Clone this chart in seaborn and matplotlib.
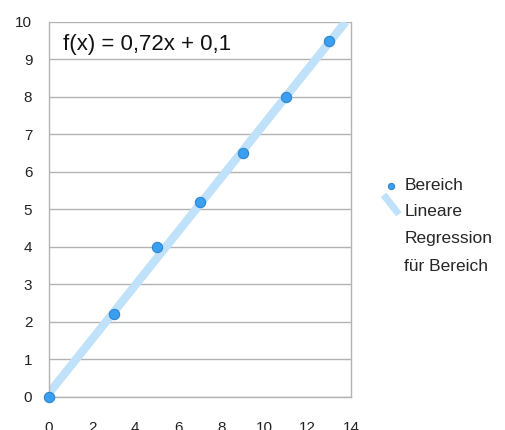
import numpy as np
import pandas as pd
import seaborn as sns
import matplotlib.pyplot as plt
from matplotlib.legend_handler import HandlerLine2D
from matplotlib.lines import Line2D

# data
x_vals = [0, 3, 5, 7, 9, 11, 13]
y_vals = [0, 2.2, 4, 5.2, 6.5, 8, 9.5]
slope = 0.72
intercept = 0.1
equation = "f(x) = 0,72x + 0,1"
series_label = "Bereich"
trend_label = "Lineare\nRegression\nfür Bereich"

df = pd.DataFrame({"x": x_vals, "y": y_vals})
fit_x = [0, (10 - intercept) / slope]
fit = pd.DataFrame({"x": fit_x, "y": [slope * v + intercept for v in fit_x]})


class DiagonalHandler(HandlerLine2D):
    # legend symbol drawn as a short diagonal stroke, next to the first text line
    def create_artists(self, legend, orig_handle, xdescent, ydescent,
                       width, height, fontsize, trans):
        up = fontsize * 1.9
        line = Line2D([xdescent + width * 0.1, xdescent + width * 0.9],
                      [height * 1.4 + up, up - height * 0.2])
        self.update_prop(line, orig_handle, legend)
        line.set_transform(trans)
        return [line]


sns.set_style("white")
plt.rcParams['font.family'] = ['Liberation Sans', 'DejaVu Sans']

fig = plt.figure(figsize=(5.05, 4.3), dpi=100)
ax = fig.add_axes([0.097, 0.077, 0.598, 0.872])

sns.lineplot(data=fit, x="x", y="y", ax=ax, color="#bfe2fa", linewidth=6,
             solid_capstyle="butt", zorder=2, label=trend_label)
sns.scatterplot(data=df, x="x", y="y", ax=ax, color="#3a9ff0", s=55,
                edgecolor="#2f86d0", linewidth=0.8, zorder=3, label=series_label,
                clip_on=False)

ax.set_xlim(0, 14)
ax.set_ylim(0, 10)
ax.set_xticks(range(0, 15, 2))
ax.set_yticks(range(0, 11))
ax.set_xlabel("")
ax.set_ylabel("")
ax.yaxis.grid(True, color="#b3b3b3", linewidth=1)
ax.xaxis.grid(False)
for s in ax.spines.values():
    s.set_color("#b3b3b3")
    s.set_linewidth(1)
ax.spines["top"].set_visible(False)
ax.tick_params(axis="x", length=8, width=1, color="#b3b3b3", pad=9,
               labelsize=11, labelcolor="#222222")
ax.tick_params(axis="y", length=8, width=1, color="#b3b3b3", pad=4,
               labelsize=11, labelcolor="#222222")

ax.text(0.65, 9.39, equation, fontsize=16, color="#111111", va="center")

handles, labels = ax.get_legend_handles_labels()
order = [labels.index(series_label), labels.index(trend_label)]
leg = ax.legend([handles[i] for i in order], [labels[i] for i in order],
                loc="upper left", bbox_to_anchor=(1.05, 0.625), frameon=False,
                fontsize=12.5, handlelength=1.1, handletextpad=0.2,
                labelspacing=0.6, markerscale=0.6,
                handler_map={Line2D: DiagonalHandler()})
for t in leg.get_texts():
    t.set_linespacing(2.05)
for h in leg.legend_handles:
    if isinstance(h, Line2D):
        h.set_linewidth(5)

fig.savefig("out.png", dpi=100)
